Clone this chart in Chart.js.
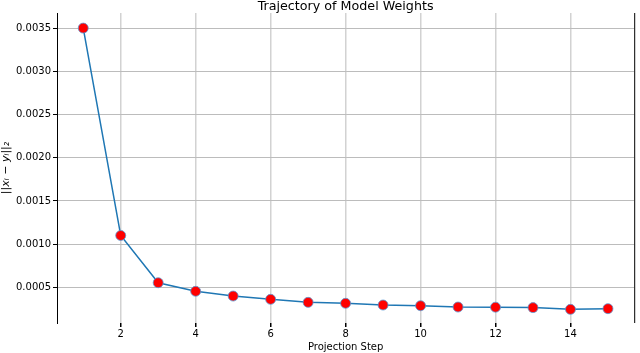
<!DOCTYPE html>
<html>
<head>
<meta charset="utf-8">
<script src="https://cdn.jsdelivr.net/npm/chart.js@4/dist/chart.umd.min.js"></script>
<style>
  body { margin: 0; background: #fff; }
  #wrap { width: 640px; height: 353px; }
</style>
</head>
<body>
<div id="wrap"><canvas id="trajChart" width="640" height="353"></canvas></div>
<script>
// data
const steps = [1, 2, 3, 4, 5, 6, 7, 8, 9, 10, 11, 12, 13, 14, 15];
const distances = [0.00350, 0.00110, 0.000553, 0.000454, 0.000399, 0.000361, 0.000326, 0.000315,
  0.000295, 0.000287, 0.000272, 0.000270, 0.000265, 0.000245, 0.000253];
const xTicks = [2, 4, 6, 8, 10, 12, 14];
const yTicks = [0.0005, 0.0010, 0.0015, 0.0020, 0.0025, 0.0030, 0.0035];

const titleText = "Trajectory of Model Weights";
const fontFamily = "'DejaVu Sans', sans-serif";

// draws the title and the right-hand spine (matplotlib look)
const framePlugin = {
  id: "frame",
  afterDraw(chart) {
    const { ctx, chartArea } = chart;
    ctx.save();
    ctx.strokeStyle = "#000";
    ctx.lineWidth = 1;
    ctx.beginPath();
    ctx.moveTo(chartArea.right + 0.5, chartArea.top);
    ctx.lineTo(chartArea.right + 0.5, chartArea.bottom);
    ctx.stroke();
    ctx.fillStyle = "#000";
    ctx.font = "12.7px " + fontFamily;
    ctx.textAlign = "center";
    ctx.textBaseline = "alphabetic";
    ctx.fillText(titleText, (chartArea.left + chartArea.right) / 2, 10);
    ctx.restore();
  },
};

const ctx = document.getElementById("trajChart").getContext("2d");
new Chart(ctx, {
  type: "line",
  data: {
    datasets: [
      {
        label: "distance",
        data: steps.map((s, i) => ({ x: s, y: distances[i] })),
        borderColor: "#1f77b4",
        borderWidth: 1.5,
        pointRadius: 5,
        pointBackgroundColor: "#ff0000",
        pointBorderColor: "#5b9bd5",
        pointBorderWidth: 0.8,
        tension: 0,
      },
    ],
  },
  plugins: [framePlugin],
  options: {
    responsive: false,
    animation: false,
    devicePixelRatio: 1,
    layout: { padding: { top: 13, right: 2, left: 0, bottom: 0 } },
    plugins: {
      legend: { display: false },
      tooltip: { enabled: false },
    },
    scales: {
      x: {
        type: "linear",
        min: 0.3,
        max: 15.7,
        afterBuildTicks: (scale) => { scale.ticks = xTicks.map(v => ({ value: v })); },
        afterFit: (scale) => { scale.height = 30; },
        grid: { color: "#d2d2d2", lineWidth: 1.5, tickLength: 4, tickColor: "#000" },
        border: { display: false },
        ticks: { color: "#000", font: { family: fontFamily, size: 10 }, padding: 1, maxRotation: 0 },
        title: { display: true, text: "Projection Step", color: "#000", font: { family: fontFamily, size: 10 }, padding: { top: 0, bottom: 0 } },
      },
      y: {
        min: 0.000087,
        max: 0.003675,
        afterBuildTicks: (scale) => { scale.ticks = yTicks.map(v => ({ value: v })); },
        afterFit: (scale) => { scale.width = 57; },
        grid: { color: "#bcbcbc", lineWidth: 1, tickLength: 4, tickColor: "#000" },
        border: { display: true, color: "#000", width: 1 },
        ticks: {
          color: "#000",
          font: { family: fontFamily, size: 10 },
          padding: 2,
          callback: (v) => Number(v).toFixed(4),
        },
        title: { display: true, text: "||xᵢ − yᵢ||₂", color: "#000", font: { family: fontFamily, size: 11, style: "italic" }, padding: { top: 0, bottom: 0 } },
      },
    },
  },
});
</script>
</body>
</html>
